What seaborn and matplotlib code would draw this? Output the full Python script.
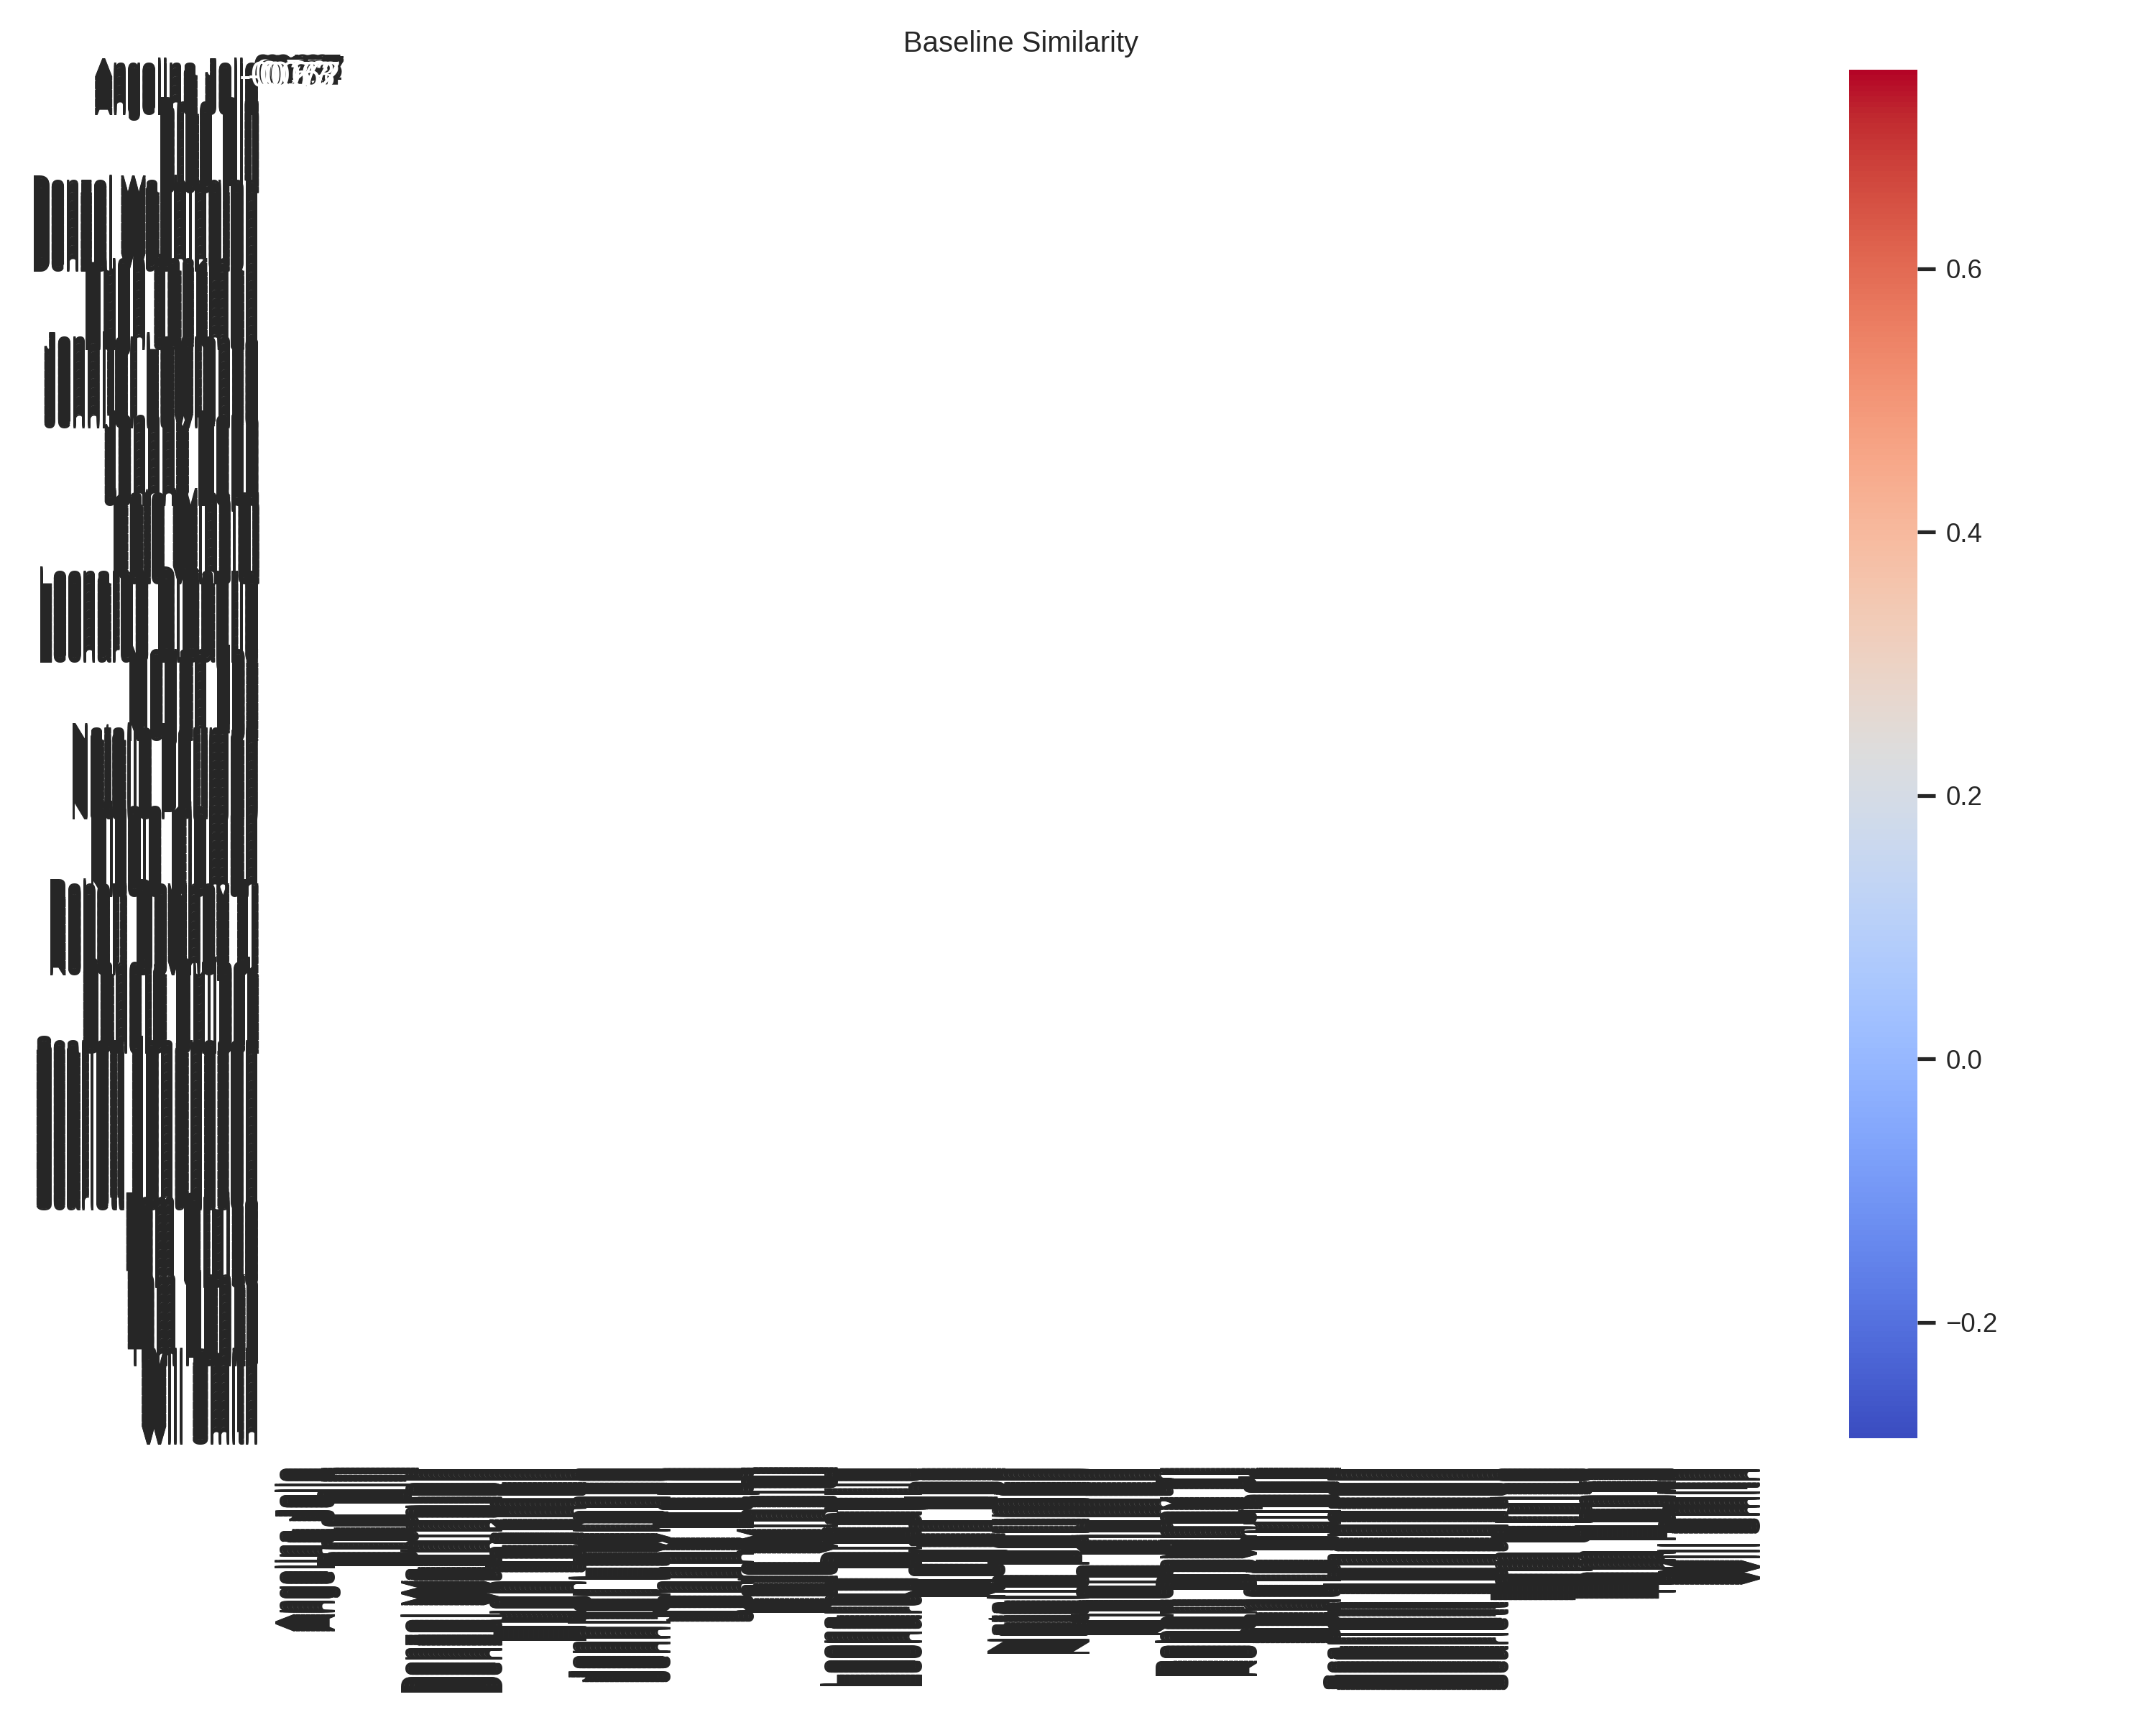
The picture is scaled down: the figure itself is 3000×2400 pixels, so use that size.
import numpy as np
import pandas as pd
import seaborn as sns
from matplotlib import pyplot as plt

# celebrity face dataset: one row/column per image, labelled with the person
names = ["Angelina Jolie", "Brad Pitt", "Denzel Washington", "Hugh Jackman",
         "Jennifer Lawrence", "Johnny Depp", "Kate Winslet", "Leonardo DiCaprio",
         "Megan Fox", "Natalie Portman", "Nicole Kidman", "Robert Downey Jr",
         "Sandra Bullock", "Scarlett Johansson", "Tom Cruise", "Tom Hanks", "Will Smith"]
images_per_name = [50, 100, 100, 100, 100, 100, 100, 100, 100, 100, 100, 100, 100,
                   200, 100, 100, 100]

# only a handful of pairs got a score, the rest stays empty
cell_rows = [0, 0, 0, 1, 1, 2, 2, 2, 3, 3, 4, 4, 5, 5, 5, 6, 6, 7, 7, 8, 8, 8, 9, 9, 10, 10, 10, 10]
cell_cols = [0, 11, 24, 4, 18, 2, 14, 27, 7, 21, 0, 26, 5, 13, 19, 9, 27, 3, 16, 6, 12, 23, 1, 20, 3, 10, 15, 21]
cell_vals = [0.41, 0.23, 0.35, 0.18, 0.29, 0.12, 0.44, 0.27, 0.31, 0.09, 0.38, 0.47, 0.21, 0.15,
             0.33, 0.26, 0.37, 0.751, 0.19, 0.43, 0.08, 0.24, -0.288, 0.36, -0.067, 0.67, 0.73, 0.72]

labels = np.repeat(names, images_per_name)
n = len(labels)
sim = np.full((n, n), np.nan)
sim[cell_rows, cell_cols] = cell_vals
df = pd.DataFrame(sim, index=labels, columns=labels)

sns.set_theme(style="white", font_scale=0.8)
plt.rcParams["font.family"] = ["Liberation Sans", "DejaVu Sans"]

fig = plt.figure(figsize=(10, 8), dpi=300)
ax = fig.add_axes([400 / 3000, 1 - 2001 / 2400, 2041 / 3000, 1904 / 2400])
cax = fig.add_axes([2573 / 3000, 1 - 2001 / 2400, 95 / 3000, 1904 / 2400])

sns.heatmap(df, cmap="coolwarm", annot=True, annot_kws={"size": 12},
            xticklabels=True, yticklabels=True, ax=ax, cbar_ax=cax)
ax.set_title("Baseline Similarity")

fig.savefig("out.png", dpi=300)
